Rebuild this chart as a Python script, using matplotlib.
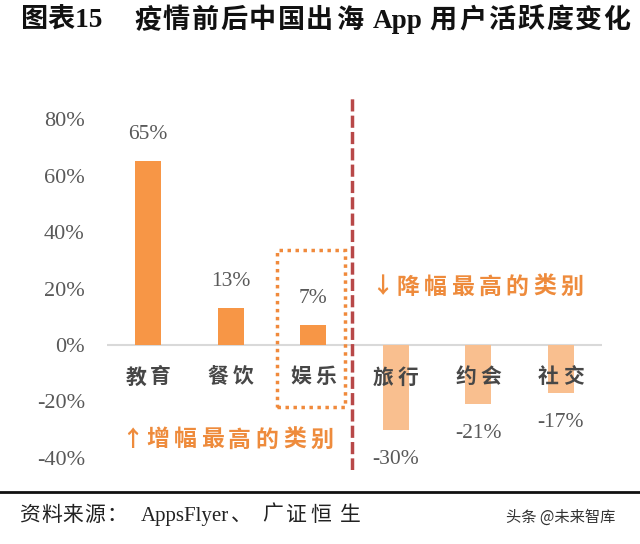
import matplotlib
matplotlib.use("Agg")
import matplotlib.pyplot as plt
from matplotlib.patches import Rectangle

categories = ["教育", "餐饮", "娱乐", "旅行", "约会", "社交"]
values = [0.65, 0.13, 0.07, -0.30, -0.21, -0.17]
value_labels = ["65%", "13%", "7%", "-30%", "-21%", "-17%"]
yticks = [-0.4, -0.2, 0.0, 0.2, 0.4, 0.6, 0.8]
ytick_labels = ["-40%", "-20%", "0%", "20%", "40%", "60%", "80%"]

title_parts = ["图表15", "疫", "情", "前", "后", "中", "国", "出", "海", "App",
               "用", "户", "活", "跃", "度", "变", "化"]
source_parts = ["资", "料", "来", "源", "：", "AppsFlyer", "、", "广", "证", "恒", "生"]
watermark = "头条 @未来智库"
up_parts = ["↑", "增", "幅", "最", "高", "的", "类", "别"]
down_parts = ["↓", "降", "幅", "最", "高", "的", "类", "别"]

CJK = ["Noto Sans CJK SC", "DejaVu Sans"]
SERIF_CJK = ["Liberation Serif", "Noto Sans CJK SC", "DejaVu Sans"]
plt.rcParams["font.family"] = CJK

W, H = 640, 544
fig = plt.figure(figsize=(6.4, 5.44), dpi=100)


def fx(px):
    return px / W


def fy(py):
    return 1 - py / H


ax = fig.add_axes([fx(107), fy(470), 495 / W, 375 / H])
ax.set_xlim(-0.5, 5.5)
ax.set_ylim(-0.4425, 0.885)
UNIT = 495 / 6.0  # px per category

x = list(range(len(categories)))
colors = ["#F79646" if v >= 0 else "#F9BF8F" for v in values]
ax.bar(x, values, width=0.31, color=colors, zorder=2)
ax.axhline(0, color="#D9D9D9", lw=1.5, zorder=1)

for xi, v, lab in zip(x, values, value_labels):
    off = 0.095 if v >= 0 else -0.105
    ax.text(xi, v + off, lab, ha="center", va="center", fontsize=15.5,
            family="Liberation Serif", color="#595959")

half = 12.5 / UNIT
for xi, c in zip(x, categories):
    for k, ch in enumerate(c):
        ax.text(xi + (-half if k == 0 else half), -0.113, ch, ha="center",
                va="center", fontsize=15, color="#474747", zorder=3,
                fontweight="bold")

ax.set_yticks(yticks)
ax.set_yticklabels(ytick_labels, family="Liberation Serif", fontsize=16,
                   color="#595959")
ax.tick_params(axis="y", length=0, pad=16)
ax.set_xticks([])
for s in ax.spines.values():
    s.set_visible(False)

# red dashed divider
ax.axvline(2.47, color="#B84848", lw=2.5, ls=(0, (3.5, 1.2)), zorder=4)

# dotted highlight box
ax.add_patch(Rectangle((1.56, -0.219), 0.825, 0.555, fill=False,
                       edgecolor="#F08A3C", lw=2.5, ls=(0, (1, 1.3)), zorder=3))

NOTE_C = "#EE8B3C"


def note(parts, x0, xfirst, pitch, ypx):
    fig.text(fx(x0), fy(ypx), parts[0], ha="left", va="center", fontsize=16,
             color=NOTE_C, fontweight="bold")
    for i, ch in enumerate(parts[1:]):
        fig.text(fx(xfirst + i * pitch), fy(ypx), ch, ha="left", va="center",
                 fontsize=16.5, color=NOTE_C, fontweight="bold")


note(up_parts, 121, 146, 27.4, 440)
note(down_parts, 371, 397, 27.2, 287)

# title
title_x = [21, 134, 163, 192, 220.5, 249, 277.5, 306, 336, 373,
           429, 459, 488.5, 517, 546, 574.5, 603]
for t, px in zip(title_parts, title_x):
    fig.text(fx(px), fy(21), t, ha="left", va="center", fontsize=19.5,
             fontweight="bold", family=SERIF_CJK, color="#111111")

fig.add_artist(plt.Line2D([0, 1], [fy(492), fy(492)], color="#111111", lw=2))

source_x = [19, 41, 62, 84, 106, 141, 231, 262, 286, 310, 340]
for t, px in zip(source_parts, source_x):
    fig.text(fx(px), fy(516), t, ha="left", va="center", fontsize=15,
             family=SERIF_CJK, color="#222222")

fig.text(fx(615), fy(517), watermark, ha="right", va="center",
         fontsize=11, color="#333333")

fig.savefig("out.png", dpi=100)
